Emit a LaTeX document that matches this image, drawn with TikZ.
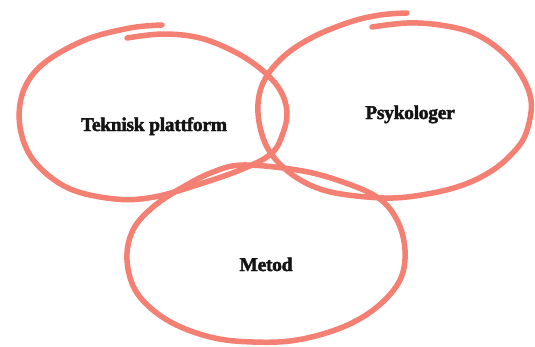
\documentclass[tikz,border=0pt]{standalone}
\usepackage{fontspec}
\newfontfamily\heavy{Liberation Serif}[UprightFont=* Bold, FakeBold=2.2, LetterSpace=-1.5]
\definecolor{coral}{RGB}{243,128,114}
\definecolor{ink}{RGB}{20,20,20}
\tikzset{
  ring/.style={draw=coral, line width=5.5pt, line cap=round, line join=round},
  lbl/.style={font=\heavy\fontsize{19.5}{22}\selectfont, text=ink, inner sep=0pt, anchor=base}
}
\begin{document}
\begin{tikzpicture}[x=1pt,y=-1pt]
\useasboundingbox[fill=white] (0,0) rectangle (535,346);
% Teknisk plattform ring
\draw[ring] plot[smooth, tension=0.6] coordinates {
 (127,38) (163,34) (200,38) (235,52) (262,70) (280,90) (287,112) (283,133)
 (272,153) (245,168) (200,184) (154,197) (115,199) (68,188) (34,161) (20,127)
 (23,92) (43,64) (85,40) (130,28) (162,25)};
% Psykologer ring
\draw[ring] plot[smooth, tension=0.6] coordinates {
 (372,27) (407,23) (440,25) (473,33) (500,50) (520,73) (531,100) (528,127)
 (518,147) (493,170) (457,187) (407,197) (367,197) (323,190) (290,173)
 (267,147) (258,113) (263,83) (283,57) (313,37) (350,22) (380,15) (407,13)};
% Metod ring
\draw[ring] plot[smooth cycle, tension=0.6] coordinates {
 (243,165) (297,170) (337,180) (377,197) (397,220) (405,250) (400,280)
 (377,307) (343,327) (297,340) (253,342) (210,337) (167,320) (137,293)
 (127,260) (133,230) (153,207) (183,187) (213,172)};
\node[lbl] (tek) at (154,131) {Teknisk plattform};
\node[lbl] (psy) at (410,119) {Psykologer};
\node[lbl] (met) at (266,271) {Metod};
\end{tikzpicture}
\end{document}
